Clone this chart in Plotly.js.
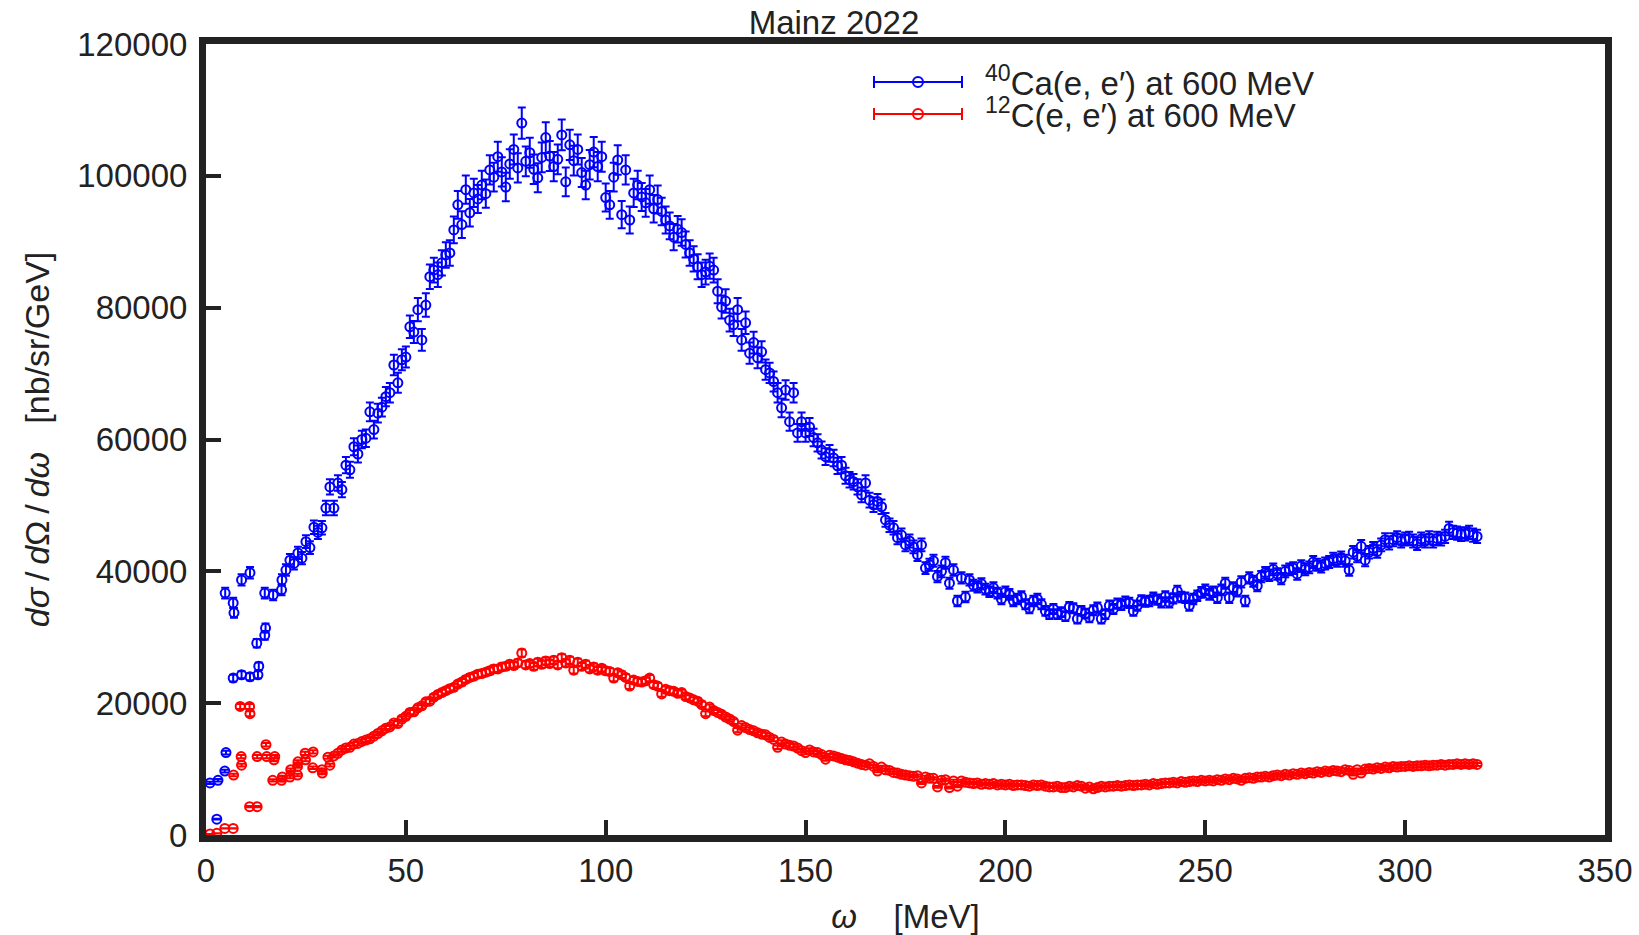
<!DOCTYPE html>
<html>
<head>
<meta charset="utf-8">
<script src="https://cdn.plot.ly/plotly-3.0.1.min.js"></script>
<style>
  html, body { margin: 0; padding: 0; background: #fff; }
  #chart { width: 1639px; height: 935px; }
</style>
</head>
<body>
<div id="chart"></div>
<script>
// ---- Data (omega in MeV, cross section in nb/sr/GeV) ----
const caX = [1, 2.7, 3, 4.7, 5, 4.8, 6.8, 7, 8.9, 11, 6.8, 8.9, 11, 13, 13.2, 12.7, 14.7, 14.9, 14.7, 16.8, 18.9, 19,
  20, 21, 22, 23, 24, 25, 26, 27, 28, 29,
  30, 31, 32, 33, 34, 35, 36, 37, 38, 39,
  40, 41, 42, 43, 44, 45, 46, 47, 48, 49,
  50, 51, 52, 53, 54, 55, 56, 57, 58, 59,
  60, 61, 62, 63, 64, 65, 66, 67, 68, 69,
  70, 71, 72, 73, 74, 75, 76, 77, 78, 79,
  80, 81, 82, 83, 84, 85, 86, 87, 88, 89,
  90, 91, 92, 93, 94, 95, 96, 97, 98, 99,
  100, 101, 102, 103, 104, 105, 106, 107, 108, 109,
  110, 111, 112, 113, 114, 115, 116, 117, 118, 119,
  120, 121, 122, 123, 124, 125, 126, 127, 128, 129,
  130, 131, 132, 133, 134, 135, 136, 137, 138, 139,
  140, 141, 142, 143, 144, 145, 146, 147, 148, 149,
  150, 151, 152, 153, 154, 155, 156, 157, 158, 159,
  160, 161, 162, 163, 164, 165, 166, 167, 168, 169,
  170, 171, 172, 173, 174, 175, 176, 177, 178, 179,
  180, 181, 182, 183, 184, 185, 186, 187, 188, 189,
  190, 191, 192, 193, 194, 195, 196, 197, 198, 199,
  200, 201, 202, 203, 204, 205, 206, 207, 208, 209,
  210, 211, 212, 213, 214, 215, 216, 217, 218, 219,
  220, 221, 222, 223, 224, 225, 226, 227, 228, 229,
  230, 231, 232, 233, 234, 235, 236, 237, 238, 239,
  240, 241, 242, 243, 244, 245, 246, 247, 248, 249,
  250, 251, 252, 253, 254, 255, 256, 257, 258, 259,
  260, 261, 262, 263, 264, 265, 266, 267, 268, 269,
  270, 271, 272, 273, 274, 275, 276, 277, 278, 279,
  280, 281, 282, 283, 284, 285, 286, 287, 288, 289,
  290, 291, 292, 293, 294, 295, 296, 297, 298, 299,
  300, 301, 302, 303, 304, 305, 306, 307, 308, 309,
  310, 311, 312, 313, 314, 315, 316, 317, 318];

const caY = [7900, 2400, 8300, 9700, 12500, 36700, 35200, 33700, 38700, 39800, 23800, 24300, 24000, 24300, 25600, 29100, 30300, 31400, 36700, 36400, 37200, 38700,
  40200, 41700, 41200, 42800, 42000, 44500, 43600, 46700, 45900, 46600,
  49600, 52800, 49600, 53400, 52400, 56100, 55400, 58900, 57800, 60000,
  60200, 64200, 61500, 64000, 64900, 66500, 67100, 71300, 68600, 72100,
  72500, 77100, 76300, 79700, 75100, 80400, 84700, 85700, 85000, 86800,
  88000, 88300, 91800, 95600, 92600, 97900, 94400, 97400, 96500, 98600,
  97300, 100900, 99800, 102900, 100600, 98300, 101800, 104000, 101200, 108000,
  102200, 103500, 101000, 99700, 102800, 105800, 103000, 101400, 102500, 106200,
  99100, 104700, 102300, 104000, 100500, 98600, 101700, 103600, 101400, 102900,
  96700, 95600, 99800, 102400, 94100, 100900, 93300, 97400, 98600, 96800,
  95900, 97900, 95000, 96400, 94600, 93300, 92400, 90700, 91900, 91400,
  89600, 88300, 87400, 86200, 85000, 85400, 86300, 85700, 82500, 80100,
  81000, 78100, 77400, 79700, 75100, 77700, 73100, 74700, 72400, 73300,
  70600, 70100, 68800, 67100, 64800, 67500, 62700, 67100, 61000, 62700,
  61000, 61900, 60300, 59500, 58400, 57400, 57900, 57200, 56000, 56100,
  54500, 53900, 53600, 52800, 51600, 53400, 50800, 50100, 50600, 49800,
  47800, 47000, 46600, 45100, 45500, 44000, 44600, 43700, 42500, 44000,
  40500, 41000, 41600, 39200, 40000, 41300, 38200, 40200, 35500, 39000,
  36100, 38700, 37900, 37600, 38100, 37300, 36900, 37500, 36700, 35800,
  36900, 36500, 35500, 35800, 36200, 35000, 34400, 35500, 35800, 35000,
  34000, 33500, 34300, 33500, 33800, 33200, 34600, 34400, 32800, 34000,
  33600, 33000, 34100, 34500, 32800, 33500, 34800, 34300, 35100, 34900,
  35400, 35200, 34000, 34800, 35600, 35400, 35500, 36000, 35700, 35300,
  36200, 35300, 35900, 37000, 36100, 36000, 34800, 35800, 36300, 36800,
  37200, 36500, 36900, 36000, 37200, 38200, 36000, 37500, 37000, 38400,
  35500, 39000, 38500, 37800, 39200, 39800, 39400, 40300, 39600, 38900,
  40000, 40300, 40500, 39600, 40800, 40300, 40600, 41400, 41000, 40700,
  41200, 41400, 41900, 41600, 42100, 41600, 40200, 42900, 42300, 43800,
  41700, 42900, 43500, 43000, 44000, 44800, 44300, 44800, 45100, 44600,
  44900, 45000, 44600, 44200, 44900, 44600, 45100, 44600, 45000, 44900,
  45300, 46500, 45900, 45800, 45600, 45700, 45900, 45500, 45300];

const cX = [1, 2.7, 4.7, 6.8, 6.9, 8.55, 8.8, 8.9, 10.9, 11.0, 10.9, 12.8, 12.8, 15.0, 15.2, 17.2, 17.0, 16.7, 18.9, 19.1,
  21, 21.2, 22.9, 22.9, 23.0, 24.8, 24.9, 26.8, 26.7, 29.0, 29.1, 30.5, 31.0,
  32, 33, 34, 35, 36, 37, 38, 39, 40, 41,
  42, 43, 44, 45, 46, 47, 48, 49, 50, 51,
  52, 53, 54, 55, 56, 57, 58, 59, 60, 61,
  62, 63, 64, 65, 66, 67, 68, 69, 70, 71,
  72, 73, 74, 75, 76, 77, 78, 79, 80, 81,
  82, 83, 84, 85, 86, 87, 88, 89, 90, 91,
  92, 93, 94, 95, 96, 97, 98, 99, 100, 101,
  102, 103, 104, 105, 106, 107, 108, 109, 110, 111,
  112, 113, 114, 115, 116, 117, 118, 119, 120, 121,
  122, 123, 124, 125, 126, 127, 128, 129, 130, 131,
  132, 133, 134, 135, 136, 137, 138, 139, 140, 141,
  142, 143, 144, 145, 146, 147, 148, 149, 150, 151,
  152, 153, 154, 155, 156, 157, 158, 159, 160, 161,
  162, 163, 164, 165, 166, 167, 168, 169, 170, 171,
  172, 173, 174, 175, 176, 177, 178, 179, 180, 181,
  182, 183, 184, 185, 186, 187, 188, 189, 190, 191,
  192, 193, 194, 195, 196, 197, 198, 199, 200, 201,
  202, 203, 204, 205, 206, 207, 208, 209, 210, 211,
  212, 213, 214, 215, 216, 217, 218, 219, 220, 221,
  222, 223, 224, 225, 226, 227, 228, 229, 230, 231,
  232, 233, 234, 235, 236, 237, 238, 239, 240, 241,
  242, 243, 244, 245, 246, 247, 248, 249, 250, 251,
  252, 253, 254, 255, 256, 257, 258, 259, 260, 261,
  262, 263, 264, 265, 266, 267, 268, 269, 270, 271,
  272, 273, 274, 275, 276, 277, 278, 279, 280, 281,
  282, 283, 284, 285, 286, 287, 288, 289, 290, 291,
  292, 293, 294, 295, 296, 297, 298, 299, 300, 301,
  302, 303, 304, 305, 306, 307, 308, 309, 310, 311,
  312, 313, 314, 315, 316, 317, 318];

const cY = [150, 250, 1000, 1000, 9100, 19500, 11900, 10600, 19500, 18400, 4300, 4300, 11900, 13700, 11900, 11900, 11400, 8300, 8300, 8800,
  8800, 9900, 9100, 10400, 11100, 12400, 11400, 12600, 10200, 9900, 9400, 11800, 10600,
  12000, 12400, 12900, 13200, 13300, 13800, 13900, 14200, 14400, 14600,
  15000, 15400, 15800, 16200, 16400, 17000, 16900, 17600, 18000, 18600,
  18700, 19300, 19600, 20200, 20300, 20900, 21300, 21600, 21900, 22200,
  22400, 22900, 23200, 23600, 23900, 24100, 24400, 24500, 24700, 24900,
  25200, 25200, 25500, 25600, 25900, 25700, 26100, 27600, 25800, 26000,
  25600, 26200, 25900, 26400, 26000, 26500, 25800, 26900, 26100, 26500,
  25000, 26200, 25600, 25900, 25200, 25500, 25000, 25300, 24900, 24800,
  23800, 24600, 24300, 23900, 22600, 23500, 23300, 23200, 23400, 23800,
  22800, 22600, 21400, 22100, 21900, 21800, 21500, 21600, 21000, 20800,
  20500, 20300, 19800, 18400, 19400, 18900, 18600, 18300, 17900, 17600,
  17200, 15900, 16600, 16300, 16000, 15800, 15500, 15300, 15200, 14800,
  14500, 13300, 14100, 13800, 13600, 13500, 13200, 12800, 12500, 12900,
  12600, 12500, 12200, 11500, 12100, 12000, 11800, 11600, 11400, 11300,
  11100, 10900, 10700, 10600, 10800, 10400, 9700, 10300, 9900, 9800,
  9500, 9400, 9200, 9100, 9000, 8900, 9000, 7900, 8800, 8600,
  8600, 7300, 8300, 8400, 7200, 8200, 7400, 8200, 8000, 7900,
  7800, 7900, 7700, 7800, 7700, 7800, 7600, 7700, 7600, 7700,
  7500, 7600, 7600, 7500, 7400, 7600, 7500, 7600, 7400, 7300,
  7300, 7400, 7200, 7200, 7400, 7300, 7500, 7400, 7100, 7300,
  7000, 7200, 7400, 7300, 7400, 7400, 7500, 7400, 7500, 7600,
  7500, 7600, 7600, 7700, 7600, 7800, 7700, 7800, 7900, 7900,
  8000, 7900, 8100, 8000, 8100, 8200, 8100, 8300, 8200, 8300,
  8200, 8400, 8300, 8500, 8400, 8600, 8500, 8300, 8600, 8700,
  8600, 8800, 8800, 8900, 8800, 9000, 9100, 9000, 9200, 9100,
  9300, 9200, 9400, 9300, 9500, 9400, 9600, 9500, 9700, 9600,
  9800, 9700, 9600, 9900, 9800, 9200, 9900, 9400, 10000, 10100,
  10000, 10200, 10100, 10300, 10200, 10400, 10300, 10400, 10400, 10500,
  10400, 10500, 10500, 10600, 10500, 10600, 10600, 10700, 10600, 10700,
  10700, 10800, 10700, 10800, 10700, 10800, 10700];

const seriesNames = ['<sup>40</sup>Ca(e, e′) at 600 MeV', '<sup>12</sup>C(e, e′) at 600 MeV'];
const seriesColors = ['#0000ff', '#ff0000'];
const xTickVals = [0, 50, 100, 150, 200, 250, 300, 350];
const yTickVals = [0, 20000, 40000, 60000, 80000, 100000, 120000];

// ---- Styling ----
const FONT = '"Liberation Sans", Arial, Helvetica, sans-serif';
const INK = '#222222';
const W = 1639, H = 935;
const M = { l: 206, r: 34, t: 44, b: 100 };
const PW = W - M.l - M.r, PH = H - M.t - M.b;
const px2paperX = p => (p - M.l) / PW;
const px2paperY = p => (H - M.b - p) / PH;

// legend rows (pixel centres) and glyph geometry
const legendRowY = [82, 114];
const glyphCenterX = 918, glyphHalf = 44, capHalf = 6;
const ITEMW = 124;

function dataTrace(x, y, i, pct) {
  return {
    x: x, y: y, type: 'scatter', mode: 'markers',
    name: seriesNames[i], legendgroup: 'g' + i, showlegend: false,
    marker: { symbol: 'circle-open', size: 9, color: seriesColors[i], line: { width: 2, color: seriesColors[i] } },
    error_y: { type: 'percent', value: pct, color: seriesColors[i], thickness: 2, width: 4 },
    cliponaxis: true, hoverinfo: 'x+y'
  };
}
function legendTrace(i) {
  return {
    x: [null], y: [null], type: 'scatter', mode: 'markers',
    name: seriesNames[i], legendgroup: 'g' + i, showlegend: true,
    legend: i === 0 ? 'legend' : 'legend2',
    marker: { symbol: 'circle-open', size: 10, color: seriesColors[i], line: { width: 2, color: seriesColors[i] } }
  };
}

const traces = [
  dataTrace(caX, caY, 0, 2.2),
  dataTrace(cX, cY, 1, 2.0),
  legendTrace(0),
  legendTrace(1)
];

// legend glyph bars with end caps (decoration of legend symbols)
const shapes = [];
legendRowY.forEach((ry, i) => {
  const c = seriesColors[i];
  const xa = px2paperX(glyphCenterX - glyphHalf), xb = px2paperX(glyphCenterX + glyphHalf);
  const y = px2paperY(ry), yt = px2paperY(ry - capHalf), yb = px2paperY(ry + capHalf);
  shapes.push({ type: 'line', xref: 'paper', yref: 'paper', x0: xa, x1: xb, y0: y, y1: y, line: { color: c, width: 2 } });
  shapes.push({ type: 'line', xref: 'paper', yref: 'paper', x0: xa, x1: xa, y0: yb, y1: yt, line: { color: c, width: 2 } });
  shapes.push({ type: 'line', xref: 'paper', yref: 'paper', x0: xb, x1: xb, y0: yb, y1: yt, line: { color: c, width: 2 } });
});

function legendBox(i) {
  return {
    x: px2paperX(glyphCenterX - (ITEMW + 10) / 2), y: px2paperY(legendRowY[i]),
    xanchor: 'left', yanchor: 'middle',
    bgcolor: 'rgba(0,0,0,0)', borderwidth: 0,
    font: { family: FONT, size: 33, color: INK },
    itemwidth: ITEMW
  };
}

const thin = '\u2009';
const layout = {
  width: W, height: H,
  margin: { l: M.l, r: M.r, t: M.t, b: M.b, pad: 0 },
  paper_bgcolor: '#ffffff', plot_bgcolor: '#ffffff',
  font: { family: FONT, size: 33, color: INK },
  title: {
    text: 'Mainz 2022',
    font: { family: FONT, size: 33, color: INK },
    xref: 'container', x: 834 / W, xanchor: 'center',
    yref: 'container', y: 1 - 22 / H, yanchor: 'middle'
  },
  showlegend: true,
  legend: legendBox(0),
  legend2: legendBox(1),
  shapes: shapes,
  xaxis: {
    range: [0, 350], tickvals: xTickVals, ticks: 'inside', ticklen: 15, tickwidth: 4, tickcolor: INK,
    showline: true, linewidth: 7, linecolor: INK, mirror: true,
    showgrid: false, zeroline: false, tickfont: { family: FONT, size: 33, color: INK },
    ticklabelstandoff: 0,
    title: { text: '<i>ω</i>&nbsp;&nbsp;&nbsp;&nbsp;[MeV]', font: { family: FONT, size: 33, color: INK }, standoff: 36 }
  },
  yaxis: {
    range: [0, 120000], tickvals: yTickVals, tickformat: 'd', ticks: 'inside', ticklen: 15, tickwidth: 4, tickcolor: INK,
    showline: true, linewidth: 7, linecolor: INK, mirror: true,
    showgrid: false, zeroline: false, tickfont: { family: FONT, size: 33, color: INK },
    ticklabelstandoff: 5,
    title: {
      text: '<i>dσ</i>' + thin + '/' + thin + '<i>d</i>Ω' + thin + '/' + thin + '<i>dω</i>&nbsp;&nbsp;&nbsp;[nb/sr/GeV]',
      font: { family: FONT, size: 34, color: INK }, standoff: 20
    }
  }
};

Plotly.newPlot('chart', traces, layout, { displayModeBar: false, staticPlot: true });
</script>
</body>
</html>
